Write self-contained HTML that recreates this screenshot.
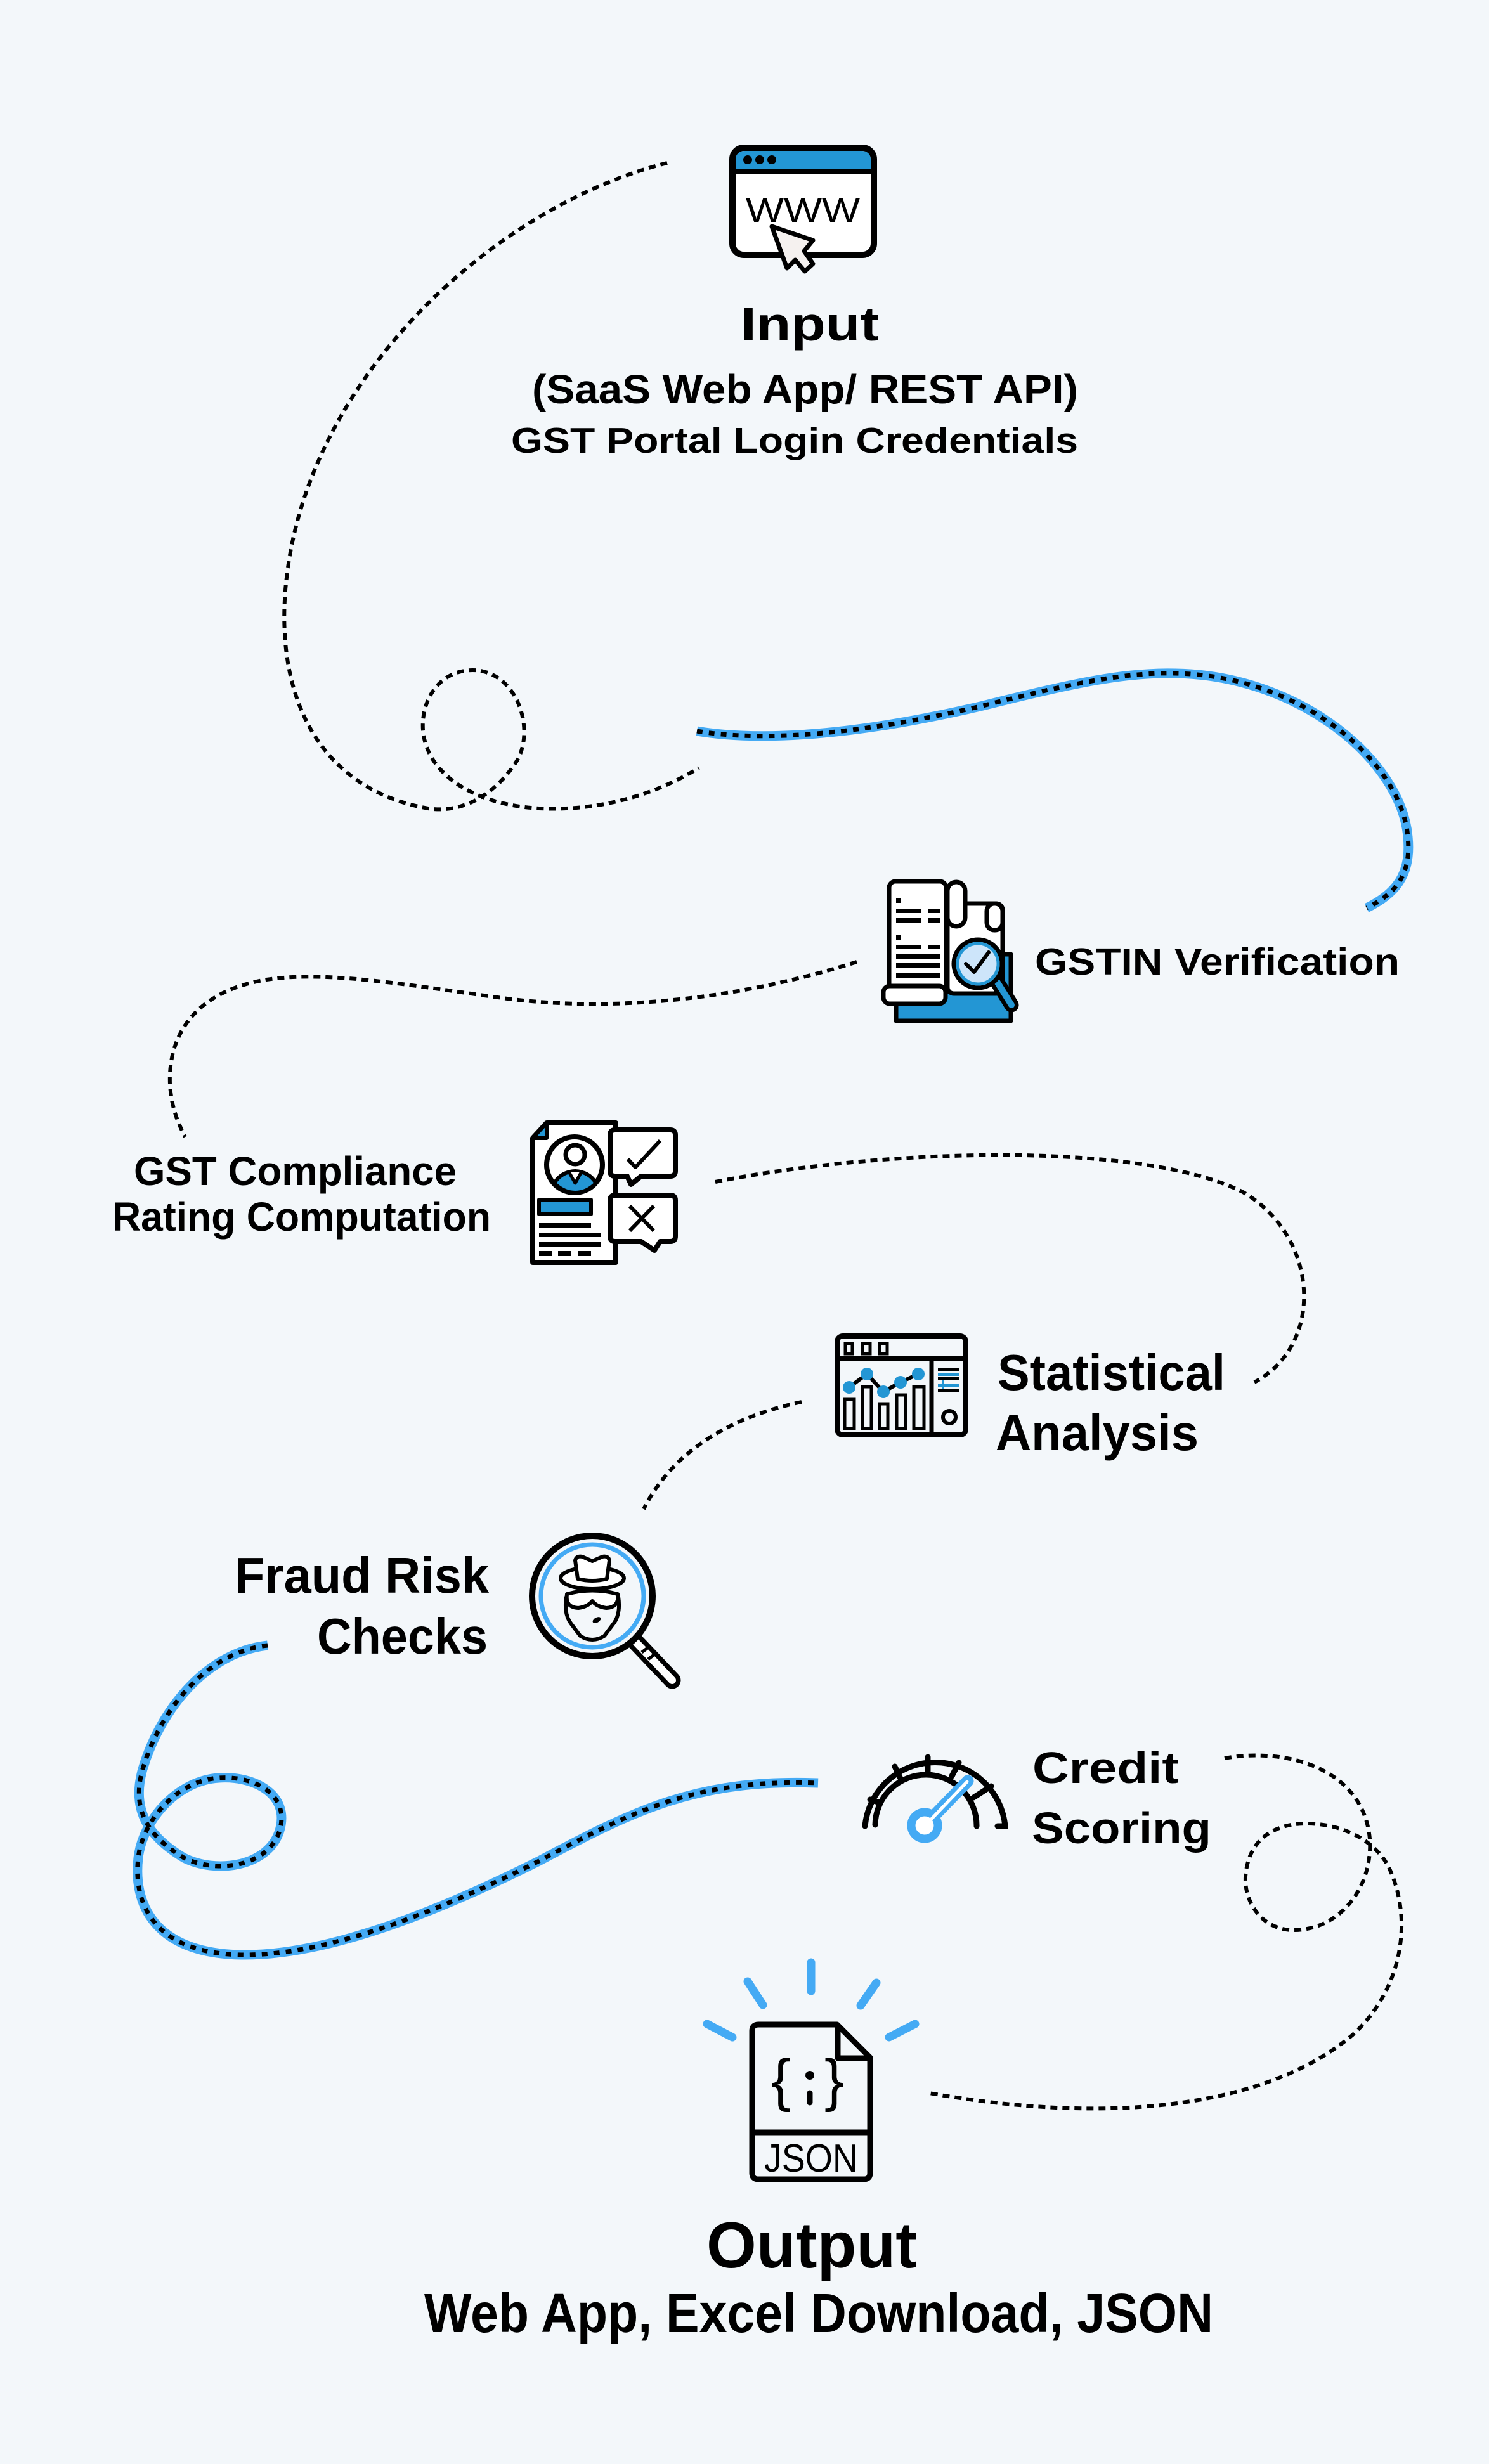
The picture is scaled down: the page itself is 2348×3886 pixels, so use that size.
<!DOCTYPE html>
<html>
<head>
<meta charset="utf-8">
<style>
html,body{margin:0;padding:0;background:#f3f7fa;}
svg{display:block;}
.t{font-family:"Liberation Sans",Arial,sans-serif;font-weight:bold;fill:#000;}
.n{font-family:"Liberation Sans",Arial,sans-serif;font-weight:normal;fill:#000;}
</style>
</head>
<body>
<svg width="2348" height="3886" viewBox="0 0 2348 3886" xmlns="http://www.w3.org/2000/svg">
<rect x="0" y="0" width="2348" height="3886" fill="#f3f7fa"/>

<!-- ===== Connectors ===== -->
<g fill="none" stroke-linecap="butt">
  <!-- top black dotted with loop -->
  <path d="M1052,257 C800,320 520,560 460,860 C420,1060 480,1240 675,1275 C740,1285 790,1240 815,1200 C845,1150 815,1057 745,1057 C690,1057 660,1110 668,1160 C680,1230 760,1270 850,1275 C950,1280 1040,1250 1102,1211" stroke="#000" stroke-width="6" stroke-dasharray="11 8"/>
  <!-- blue curve 1 -->
  <path d="M1099,1153 C1200,1170 1350,1160 1550,1113 C1700,1075 1780,1060 1853,1062 C2050,1065 2210,1200 2220,1320 C2226,1380 2200,1410 2155,1432" stroke="#44aaf4" stroke-width="15"/>
  <path d="M1099,1153 C1200,1170 1350,1160 1550,1113 C1700,1075 1780,1060 1853,1062 C2050,1065 2210,1200 2220,1320 C2226,1380 2200,1410 2155,1432" stroke="#000" stroke-width="7" stroke-dasharray="9 10"/>
  <!-- GSTIN to compliance -->
  <path d="M1351,1517 C1200,1565 1000,1600 800,1575 C650,1555 520,1530 420,1545 C300,1565 265,1640 268,1710 C270,1745 280,1770 292,1793" stroke="#000" stroke-width="6" stroke-dasharray="11 8"/>
  <!-- compliance to statistical -->
  <path d="M1128,1864 C1400,1810 1800,1800 1960,1880 C2080,1950 2090,2120 1978,2180" stroke="#000" stroke-width="6" stroke-dasharray="11 8"/>
  <!-- statistical to fraud -->
  <path d="M1264,2211 C1150,2235 1060,2290 1015,2380" stroke="#000" stroke-width="6" stroke-dasharray="11 8"/>
  <!-- blue curve 2 with loop -->
  <path d="M422,2595 C330,2605 255,2690 225,2790 C205,2860 240,2900 290,2930 C340,2955 420,2945 440,2890 C460,2830 400,2800 345,2804 C280,2808 225,2870 218,2930 C210,3000 240,3080 380,3083 C520,3085 700,3010 850,2935 C1000,2855 1100,2805 1290,2812" stroke="#44aaf4" stroke-width="15"/>
  <path d="M422,2595 C330,2605 255,2690 225,2790 C205,2860 240,2900 290,2930 C340,2955 420,2945 440,2890 C460,2830 400,2800 345,2804 C280,2808 225,2870 218,2930 C210,3000 240,3080 380,3083 C520,3085 700,3010 850,2935 C1000,2855 1100,2805 1290,2812" stroke="#000" stroke-width="7" stroke-dasharray="9 10"/>
  <!-- credit loop to output -->
  <path d="M1931,2773 C2030,2755 2150,2790 2160,2900 C2165,2980 2110,3044 2040,3044 C1990,3044 1962,3000 1964,2960 C1968,2900 2010,2876 2060,2876 C2120,2876 2170,2905 2190,2945 C2230,3030 2210,3140 2132,3210 C2020,3305 1800,3360 1465,3301" stroke="#000" stroke-width="6" stroke-dasharray="11 8"/>
</g>

<!-- ===== Input browser icon ===== -->
<g>
  <rect x="1155" y="233" width="223" height="169" rx="18" fill="#fff"/>
  <path d="M1160,270 V252 Q1160,238 1174,238 H1359 Q1373,238 1373,252 V270 Z" fill="#2396d4"/>
  <rect x="1155" y="233" width="223" height="169" rx="18" fill="none" stroke="#000" stroke-width="10"/>
  <line x1="1155" y1="271" x2="1378" y2="271" stroke="#000" stroke-width="8"/>
  <circle cx="1179" cy="252" r="7" fill="#000"/>
  <circle cx="1198" cy="252" r="7" fill="#000"/>
  <circle cx="1217" cy="252" r="7" fill="#000"/>
  <text class="n" x="1176" y="350" font-size="54" textLength="180" lengthAdjust="spacingAndGlyphs">WWW</text>
  <polygon points="1217,357 1241,423 1254,410 1269,428 1282,416 1268,396 1282,379" fill="#f5f1ef" stroke="#000" stroke-width="7" stroke-linejoin="round"/>
</g>
<text class="t" x="1168" y="537" font-size="75" textLength="218" lengthAdjust="spacingAndGlyphs">Input</text>
<text class="t" x="839" y="636" font-size="64" textLength="861" lengthAdjust="spacingAndGlyphs">(SaaS Web App/ REST API)</text>
<text class="t" x="806" y="714" font-size="57" textLength="894" lengthAdjust="spacingAndGlyphs">GST Portal Login Credentials</text>

<!-- ===== GSTIN icon ===== -->
<g stroke="#000" stroke-width="7" stroke-linejoin="round">
  <rect x="1413" y="1505" width="181" height="105" fill="#2396d4"/>
  <rect x="1494" y="1425" width="87" height="142" rx="10" fill="#fff"/>
  <rect x="1556" y="1425" width="25" height="42" rx="12" fill="#fff"/>
  <rect x="1402" y="1390" width="90" height="183" rx="10" fill="#fff"/>
  <rect x="1494" y="1391" width="28" height="70" rx="14" fill="#fff"/>
  <rect x="1393" y="1555" width="98" height="28" rx="10" fill="#fff"/>
</g>
<g fill="#000">
  <rect x="1413" y="1417" width="7" height="7"/>
  <rect x="1413" y="1433" width="40" height="7"/><rect x="1463" y="1433" width="19" height="7"/>
  <rect x="1413" y="1447" width="40" height="8"/><rect x="1463" y="1447" width="19" height="8"/>
  <rect x="1413" y="1475" width="7" height="7"/>
  <rect x="1413" y="1490" width="40" height="7"/><rect x="1463" y="1490" width="19" height="7"/>
  <rect x="1413" y="1504" width="69" height="8"/>
  <rect x="1413" y="1519" width="69" height="8"/>
  <rect x="1413" y="1534" width="69" height="8"/>
</g>
<g>
  <line x1="1572" y1="1548" x2="1595" y2="1585" stroke="#000" stroke-width="23" stroke-linecap="round"/>
  <line x1="1572" y1="1548" x2="1595" y2="1585" stroke="#2396d4" stroke-width="10" stroke-linecap="round"/>
  <circle cx="1542" cy="1520" r="38" fill="#cde5fa" stroke="#000" stroke-width="7"/>
  <circle cx="1542" cy="1520" r="32" fill="none" stroke="#2396d4" stroke-width="5"/>
  <polyline points="1523,1520 1536,1533 1559,1502" fill="none" stroke="#000" stroke-width="6" stroke-linecap="round" stroke-linejoin="round"/>
</g>
<text class="t" x="1632" y="1537" font-size="59" textLength="575" lengthAdjust="spacingAndGlyphs">GSTIN Verification</text>

<!-- ===== GST Compliance icon ===== -->
<g stroke="#000" stroke-linejoin="round">
  <path d="M862,1771 H971 V1991 H840 V1795 Z" fill="#fff" stroke-width="8"/>
  <path d="M840,1795 L862,1771 L862,1795 Z" fill="#2396d4" stroke-width="6"/>
  <ellipse cx="906" cy="1837" rx="44" ry="44" fill="#fff" stroke-width="8"/>
  <path d="M874,1866 Q885,1848 907,1847 Q929,1848 940,1866 Q925,1881 907,1881 Q889,1881 874,1866 Z" fill="#2396d4" stroke-width="6"/>
  <polyline points="897,1848 907,1866 917,1848" fill="#fff" stroke-width="5"/>
  <circle cx="907" cy="1821" r="15" fill="#fff" stroke-width="7"/>
  <rect x="850" y="1892" width="82" height="23" fill="#2396d4" stroke-width="6"/>
  <path d="M970,1782 H1057 Q1065,1782 1065,1790 V1847 Q1065,1855 1057,1855 H1011 L995,1868 L989,1855 H970 Q962,1855 962,1847 V1790 Q962,1782 970,1782 Z" fill="#fff" stroke-width="8"/>
  <path d="M970,1885 H1057 Q1065,1885 1065,1893 V1950 Q1065,1958 1057,1958 H1041 L1032,1972 L1011,1958 H970 Q962,1958 962,1950 V1893 Q962,1885 970,1885 Z" fill="#fff" stroke-width="8"/>
  <polyline points="990,1828 1002,1841 1041,1799" fill="none" stroke-width="6"/>
  <line x1="993" y1="1902" x2="1031" y2="1941" stroke-width="6"/>
  <line x1="1031" y1="1902" x2="993" y2="1941" stroke-width="6"/>
</g>
<g fill="#000">
  <rect x="850" y="1929" width="82" height="7"/>
  <rect x="850" y="1944" width="97" height="7"/>
  <rect x="850" y="1958" width="97" height="8"/>
  <rect x="850" y="1973" width="21" height="8"/>
  <rect x="880" y="1973" width="21" height="8"/>
  <rect x="911" y="1973" width="21" height="8"/>
</g>
<text class="t" x="211" y="1869" font-size="64" textLength="509" lengthAdjust="spacingAndGlyphs">GST Compliance</text>
<text class="t" x="177" y="1941" font-size="64" textLength="597" lengthAdjust="spacingAndGlyphs">Rating Computation</text>

<!-- ===== Statistical icon ===== -->
<g stroke="#000" fill="none">
  <rect x="1320" y="2107" width="203" height="156" rx="9" stroke-width="8"/>
  <line x1="1320" y1="2143" x2="1523" y2="2143" stroke-width="8"/>
  <line x1="1469" y1="2143" x2="1469" y2="2263" stroke-width="7"/>
  <rect x="1333" y="2119" width="11" height="16" stroke-width="5"/>
  <rect x="1360" y="2119" width="12" height="16" stroke-width="5"/>
  <rect x="1387" y="2119" width="12" height="16" stroke-width="5"/>
  <rect x="1332" y="2207" width="15" height="46" stroke-width="5"/>
  <rect x="1360" y="2187" width="14" height="66" stroke-width="5"/>
  <rect x="1387" y="2214" width="13" height="39" stroke-width="5"/>
  <rect x="1414" y="2200" width="14" height="53" stroke-width="5"/>
  <rect x="1441" y="2187" width="16" height="66" stroke-width="5"/>
  <polyline points="1339,2188 1367,2167 1393,2195 1420,2180 1448,2167" stroke-width="6"/>
  <circle cx="1497" cy="2235" r="10" stroke-width="6"/>
</g>
<g fill="#2396d4">
  <circle cx="1339" cy="2188" r="10"/>
  <circle cx="1367" cy="2167" r="10"/>
  <circle cx="1393" cy="2195" r="10"/>
  <circle cx="1420" cy="2180" r="10"/>
  <circle cx="1448" cy="2167" r="10"/>
</g>
<g>
  <rect x="1479" y="2158" width="34" height="5" fill="#000"/>
  <rect x="1479" y="2165" width="34" height="5" fill="#2396d4"/>
  <rect x="1479" y="2172" width="34" height="5" fill="#000"/>
  <rect x="1479" y="2182" width="34" height="5" fill="#2396d4"/>
  <rect x="1479" y="2191" width="34" height="5" fill="#000"/>
  <rect x="1485" y="2177" width="4" height="14" fill="#2396d4"/>
</g>
<text class="t" x="1573" y="2192" font-size="80" textLength="359" lengthAdjust="spacingAndGlyphs">Statistical</text>
<text class="t" x="1570" y="2287" font-size="80" textLength="320" lengthAdjust="spacingAndGlyphs">Analysis</text>

<!-- ===== Fraud icon ===== -->
<g>
  <line x1="1001" y1="2588" x2="1060" y2="2650" stroke="#000" stroke-width="27" stroke-linecap="round"/>
  <line x1="1001" y1="2588" x2="1060" y2="2650" stroke="#fff" stroke-width="12" stroke-linecap="round"/>
  <line x1="1012" y1="2606" x2="1025" y2="2596" stroke="#000" stroke-width="5"/>
  <line x1="1022" y1="2617" x2="1035" y2="2607" stroke="#000" stroke-width="5"/>
  <circle cx="934" cy="2517" r="95" fill="#f3f7fa" stroke="#000" stroke-width="10"/>
  <circle cx="934" cy="2517" r="81" fill="none" stroke="#44aaf4" stroke-width="7"/>
  <g stroke="#000" stroke-width="6" stroke-linejoin="round" fill="#fff">
    <ellipse cx="934" cy="2489" rx="50" ry="17"/>
    <path d="M911,2490 L907,2461 Q909,2453 918,2455 L934,2462 L950,2455 Q959,2453 961,2461 L957,2490 Q934,2496 911,2490 Z"/>
    <path d="M893,2518 Q889,2545 900,2560 L915,2580 Q934,2592 953,2580 L968,2560 Q979,2545 975,2518" fill="none"/>
    <path d="M894,2514 Q934,2503 974,2514 Q977,2535 956,2536 Q941,2534 934,2525 Q927,2534 912,2536 Q891,2535 894,2514 Z"/>
  </g>
  <ellipse cx="941" cy="2555" rx="7" ry="4" transform="rotate(-30 941 2555)" fill="#000"/>
</g>
<text class="t" x="370" y="2512" font-size="80" textLength="401" lengthAdjust="spacingAndGlyphs">Fraud Risk</text>
<text class="t" x="500" y="2608" font-size="80" textLength="269" lengthAdjust="spacingAndGlyphs">Checks</text>

<!-- ===== Credit gauge icon ===== -->
<g fill="none" stroke="#000" stroke-width="9" stroke-linecap="round">
  <path d="M1364,2880 A111,111 0 0 1 1585,2880 H1573"/>
  <path d="M1380,2878 A80,80 0 0 1 1540,2880"/>
  <line x1="1463" y1="2771" x2="1463" y2="2799"/>
  <line x1="1411" y1="2786" x2="1420" y2="2805"/>
  <line x1="1512" y1="2780" x2="1501" y2="2801"/>
  <line x1="1563" y1="2817" x2="1535" y2="2835"/>
  <line x1="1372" y1="2838" x2="1387" y2="2843"/>
</g>
<g>
  <line x1="1459" y1="2878" x2="1526" y2="2809" stroke="#44aaf4" stroke-width="19" stroke-linecap="round"/>
  <circle cx="1458" cy="2879" r="21" fill="#fff" stroke="#44aaf4" stroke-width="13"/>
  <line x1="1458" y1="2880" x2="1525" y2="2810" stroke="#fff" stroke-width="5" stroke-linecap="round"/>
</g>
<text class="t" x="1628" y="2812" font-size="70" textLength="231" lengthAdjust="spacingAndGlyphs">Credit</text>
<text class="t" x="1627" y="2907" font-size="70" textLength="283" lengthAdjust="spacingAndGlyphs">Scoring</text>

<!-- ===== JSON icon ===== -->
<g stroke="#44aaf4" stroke-width="13" stroke-linecap="round">
  <line x1="1279" y1="3095" x2="1279" y2="3140"/>
  <line x1="1179" y1="3125" x2="1203" y2="3162"/>
  <line x1="1382" y1="3127" x2="1357" y2="3163"/>
  <line x1="1115" y1="3192" x2="1155" y2="3213"/>
  <line x1="1443" y1="3192" x2="1402" y2="3213"/>
</g>
<g fill="none" stroke="#000" stroke-width="9" stroke-linejoin="round">
  <path d="M1196,3193 H1320 L1372,3245 V3427 Q1372,3437 1362,3437 H1196 Q1186,3437 1186,3427 V3203 Q1186,3193 1196,3193 Z"/>
  <polyline points="1321,3195 1321,3246 1372,3246"/>
  <line x1="1186" y1="3363" x2="1372" y2="3363"/>
</g>
<text class="n" x="1216" y="3312" font-size="92">{</text>
<text class="n" x="1300" y="3312" font-size="92">}</text>
<circle cx="1277" cy="3273" r="7" fill="#000"/>
<line x1="1277" y1="3301" x2="1277" y2="3316" stroke="#000" stroke-width="9" stroke-linecap="round"/>
<text class="n" x="1205" y="3425" font-size="62" textLength="148" lengthAdjust="spacingAndGlyphs">JSON</text>

<text class="t" x="1114" y="3576" font-size="102" textLength="332" lengthAdjust="spacingAndGlyphs">Output</text>
<text class="t" x="669" y="3678" font-size="87" textLength="1244" lengthAdjust="spacingAndGlyphs">Web App, Excel Download, JSON</text>
</svg>
</body>
</html>
